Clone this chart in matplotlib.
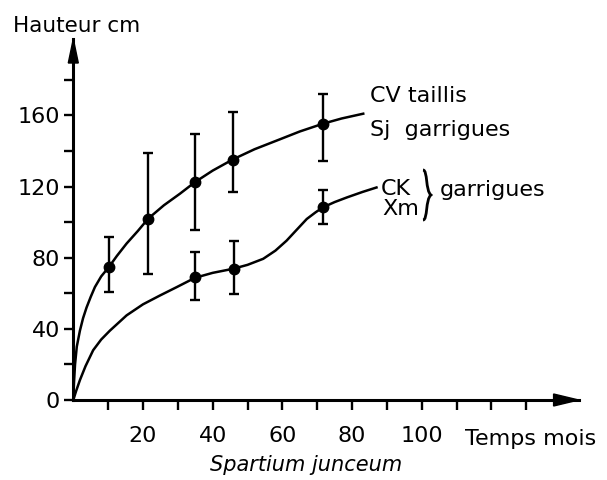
import matplotlib
matplotlib.use("Agg")
import matplotlib.pyplot as plt
from matplotlib.path import Path
from matplotlib.patches import PathPatch
import numpy as np

# ---------------- data ----------------
# measured points with error bars
upper_x = [10.3, 21.5, 34.9, 45.9, 71.7]
upper_y = [75.0, 102.0, 122.5, 135.2, 155.4]
upper_lo = [60.5, 71.0, 95.6, 116.7, 134.5]
upper_hi = [91.9, 139.0, 149.4, 161.9, 171.8]

lower_x = [34.9, 46.2, 71.6]
lower_y = [69.0, 73.8, 108.3]
lower_lo = [56.4, 59.8, 99.0]
lower_hi = [83.1, 89.6, 118.2]

# fitted curves
upper_curve_x = [0, 0.2, 0.5, 1.0, 1.9, 2.8, 3.8, 5.0, 6.2, 8.0, 10.3, 12.5, 15.3,
                 18.5, 21.5, 26.0, 30.6, 34.9, 40.0, 45.9, 52.0, 59.3, 65.0, 71.7, 77.0, 83.2]
upper_curve_y = [0, 10, 20, 30, 39, 46, 52, 58, 63.5, 69.5, 75, 81, 88,
                 95, 102, 109.5, 116, 122.5, 129, 135.4, 141, 146.6, 151, 155.4, 158.3, 161]
lower_curve_x = [0, 0.8, 1.9, 3.5, 5.7, 8.0, 10.5, 15.3, 20.0, 24.9, 29.7, 34.9, 40.0,
                 45.9, 50.0, 54.5, 58.0, 61.2, 64.0, 67.0, 69.5, 71.6, 75.0, 78.5, 83.0, 87.0]
lower_curve_y = [0, 5, 11.2, 19, 28, 34, 39, 47.6, 53.8, 58.8, 63.5, 68.7, 71.5,
                 73.8, 76, 79.4, 84, 89.6, 95.5, 101.8, 105.5, 108.3, 111.3, 113.9, 117, 119.5]

y_major = [0, 40, 80, 120, 160]
y_minor = [20, 60, 100, 140, 180]
x_ticks = [10, 20, 30, 40, 50, 60, 70, 80, 90, 100, 110, 120, 130]
x_labels = ["", "20", "", "40", "", "60", "", "80", "", "100", "", "", ""]

# ---------------- figure ----------------
W, H = 607, 480
fig = plt.figure(figsize=(W / 100, H / 100), dpi=100)
fig.patch.set_facecolor("white")


def fx(px):
    return px / W


def fy(py):
    return 1 - py / H


ax = fig.add_axes([fx(73.3), 80 / H, 505.3 / W, 361 / H])
ax.set_xlim(0, 145)
ax.set_ylim(0, 203)
for s in ["top", "right"]:
    ax.spines[s].set_visible(False)
for s in ["left", "bottom"]:
    ax.spines[s].set_linewidth(2.2)

ax.set_yticks(y_major)
ax.set_yticks(y_minor, minor=True)
ax.set_xticks(x_ticks)
ax.set_xticklabels(x_labels)
ax.tick_params(axis="y", which="both", direction="out", length=6.5, width=1.7,
               labelsize=16, pad=3)
ax.tick_params(axis="x", which="both", direction="out", length=7.5, width=1.7,
               labelsize=16, pad=11)

# arrow heads
ax.fill([1.0, 1.0 - 25 / 505.3, 1.0 - 25 / 505.3], [0, 6 / 361, -6 / 361],
        transform=ax.transAxes, color="black", clip_on=False, zorder=5)
ax.fill([0, -5 / 505.3, 5 / 505.3], [1.0, 1.0 - 24 / 361, 1.0 - 24 / 361],
        transform=ax.transAxes, color="black", clip_on=False, zorder=5)

# curves
ax.plot(upper_curve_x, upper_curve_y, color="black", lw=1.8,
        solid_joinstyle="round", clip_on=False)
ax.plot(lower_curve_x, lower_curve_y, color="black", lw=1.8,
        solid_joinstyle="round", clip_on=False)

# points with error bars
uy = np.array(upper_y)
ax.errorbar(upper_x, upper_y,
            yerr=[uy - np.array(upper_lo), np.array(upper_hi) - uy],
            fmt="o", color="black", ms=7.5, capsize=3.6, elinewidth=1.7,
            capthick=1.7, clip_on=False)
ly = np.array(lower_y)
ax.errorbar(lower_x, lower_y,
            yerr=[ly - np.array(lower_lo), np.array(lower_hi) - ly],
            fmt="o", color="black", ms=7.5, capsize=3.6, elinewidth=1.7,
            capthick=1.7, clip_on=False)

# ---------------- texts ----------------
fig.text(fx(13), fy(31.5), "Hauteur cm", fontsize=15.5, ha="left", va="baseline")
fig.text(fx(465), fy(445), "Temps mois", fontsize=16, ha="left", va="baseline")
fig.text(fx(306), fy(471), "Spartium junceum", fontsize=15, style="italic",
         ha="center", va="baseline")
fig.text(fx(370), fy(101.5), "CV taillis", fontsize=16, ha="left", va="baseline")
fig.text(fx(370), fy(136), "Sj  garrigues", fontsize=16, ha="left", va="baseline")
fig.text(fx(381), fy(195), "CK", fontsize=16, ha="left", va="baseline")
fig.text(fx(382), fy(215), "Xm", fontsize=16, ha="left", va="baseline")
fig.text(fx(440), fy(196.5), "garrigues", fontsize=16, ha="left", va="baseline")

# brace (decoration)
bx, btop, bbot, bw = 423, 170, 220, 8
bmid = (btop + bbot) / 2
verts = [
    (bx, btop), (bx + bw * 0.6, btop), (bx + bw * 0.3, bmid - 4), (bx + bw, bmid),
    (bx + bw * 0.3, bmid + 4), (bx + bw * 0.6, bbot), (bx, bbot),
]
codes = [Path.MOVETO, Path.CURVE4, Path.CURVE4, Path.CURVE4,
         Path.CURVE4, Path.CURVE4, Path.CURVE4]
verts_f = [(fx(a), fy(b)) for a, b in verts]
fig.patches.append(PathPatch(Path(verts_f, codes), transform=fig.transFigure,
                             fill=False, lw=2.0, color="black"))

fig.savefig("out.png", dpi=100, facecolor="white")
